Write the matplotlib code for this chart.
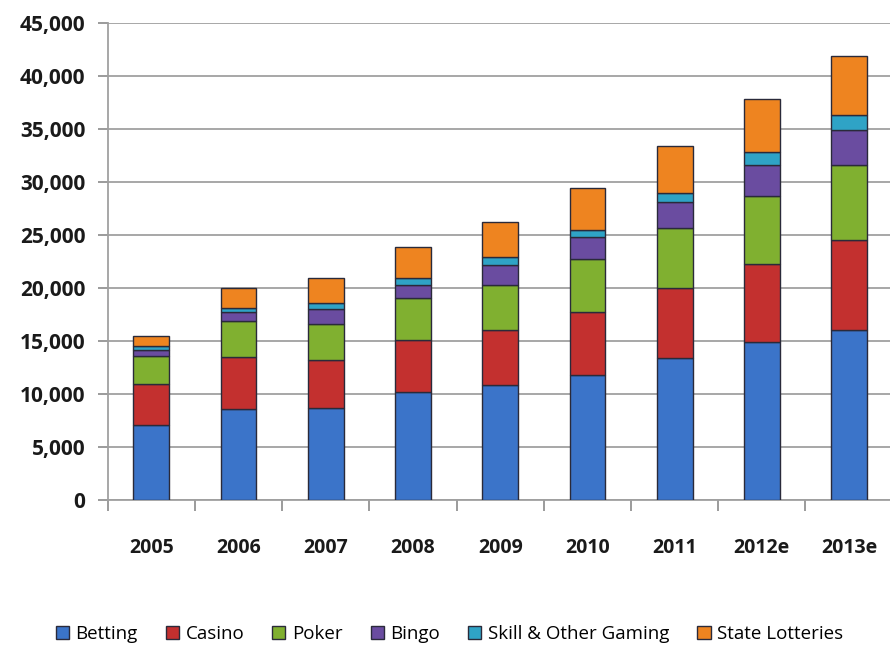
import numpy as np
import matplotlib.pyplot as plt
from matplotlib.ticker import FuncFormatter, FixedLocator

years = ["2005", "2006", "2007", "2008", "2009", "2010", "2011", "2012e", "2013e"]
betting = [7100, 8600, 8700, 10200, 10850, 11800, 13400, 14900, 16000]
casino = [3900, 4900, 4500, 4900, 5200, 5900, 6600, 7400, 8500]
poker = [2600, 3400, 3400, 4000, 4250, 5000, 5700, 6400, 7100]
bingo = [600, 800, 1400, 1200, 1900, 2100, 2400, 2900, 3300]
skill = [300, 400, 600, 600, 700, 700, 900, 1200, 1400]
lotteries = [1000, 1900, 2300, 3000, 3300, 3900, 4400, 5000, 5600]

series = [("Betting", betting, "#3b74c9"),
          ("Casino", casino, "#c3302f"),
          ("Poker", poker, "#80b030"),
          ("Bingo", bingo, "#6a4ca0"),
          ("Skill & Other Gaming", skill, "#2fa3c6"),
          ("State Lotteries", lotteries, "#ee8420")]

plt.rcParams['font.family'] = ['Open Sans', 'DejaVu Sans']

fig = plt.figure(figsize=(8.9, 6.53), dpi=100)
ax = fig.add_axes([0.121, 0.234, 0.882, 0.731])

x = np.arange(len(years))
bottom = np.zeros(len(years))
for name, vals, color in series:
    ax.bar(x, vals, width=0.41, bottom=bottom, color=color, label=name,
           edgecolor="#2a2a3a", linewidth=1.0, zorder=3)
    bottom += np.array(vals)

ax.set_xlim(-0.5, len(years) - 0.5)
ax.set_ylim(0, 45000)
ax.set_yticks(np.arange(0, 45001, 5000))
ax.yaxis.set_major_formatter(FuncFormatter(lambda v, p: f"{int(v):,}"))
ax.yaxis.grid(True, color="#a0a0a0", linewidth=1.3, zorder=0)

ax.set_xticks(x)
ax.set_xticklabels(years, fontsize=14, fontweight="bold", color="#1a1a1a")
ax.xaxis.set_minor_locator(FixedLocator(np.arange(-0.5, len(years), 1.0)))
ax.tick_params(axis="x", which="major", length=0, pad=27)
ax.tick_params(axis="x", which="minor", length=8, color="#8a8a8a", width=1.2)
ax.tick_params(axis="y", length=7, color="#8a8a8a", width=1.2, pad=9,
               labelsize=15, labelcolor="#1a1a1a")
for lbl in ax.get_yticklabels():
    lbl.set_fontweight("bold")

for s in ["top", "right"]:
    ax.spines[s].set_visible(False)
ax.spines["left"].set_color("#a0a0a0")
ax.spines["left"].set_linewidth(1.3)
ax.spines["bottom"].set_color("#a0a0a0")
ax.spines["bottom"].set_linewidth(1.3)

fig.legend(loc="center", bbox_to_anchor=(0.505, 0.029), ncol=6, frameon=False,
           fontsize=13.5, handlelength=0.7, handleheight=0.7, handletextpad=0.35,
           columnspacing=1.5)

fig.savefig("out.png", dpi=100)
